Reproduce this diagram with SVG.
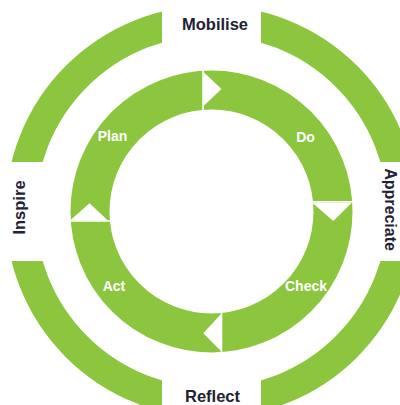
<svg xmlns="http://www.w3.org/2000/svg" width="400" height="405" viewBox="0 0 400 405">
<style>
.ring{fill:none;stroke:#8cc63f}
.notch{fill:#fff;stroke:none}
.cut{stroke:#fff;stroke-width:1.6}
.inner{font-family:"Liberation Sans",Arial,sans-serif;font-weight:bold;font-size:14px;fill:#fff;text-anchor:middle}
.outer{font-family:"Liberation Sans",Arial,sans-serif;font-weight:bold;font-size:16.5px;fill:#222233;text-anchor:middle}
</style>
<defs>
<clipPath id="quad">
<rect x="0" y="0" width="162" height="162"/>
<rect x="261" y="0" width="139" height="162"/>
<rect x="0" y="261" width="162" height="144"/>
<rect x="261" y="261" width="139" height="144"/>
</clipPath>
</defs>
<rect width="400" height="405" fill="#fff"/>
<g id="outer-ring">
<circle class="ring" cx="211.5" cy="211.5" r="191" stroke-width="30" clip-path="url(#quad)"/>
</g>
<g id="cycle-ring">
<circle class="ring" cx="211.5" cy="211.5" r="121.5" stroke-width="39"/>
</g>
<g id="connectors">
<line class="cut" x1="203" y1="68" x2="203" y2="112"/>
<polygon class="notch" points="203.5,72 203.5,106 221.5,89"/>
<line class="cut" x1="310" y1="201.8" x2="355" y2="201.8"/>
<polygon class="notch" points="312,202.5 352,202.5 333.3,221"/>
<line class="cut" x1="221.5" y1="310" x2="221.5" y2="356"/>
<polygon class="notch" points="221,314 221,351 203.3,333.3"/>
<line class="cut" x1="67" y1="221" x2="112" y2="221"/>
<polygon class="notch" points="70,220.5 108,220.5 89.5,203.3"/>
</g>
<g id="node-plan"><text class="inner" x="112.5" y="141">Plan</text></g>
<g id="node-do"><text class="inner" x="305.5" y="141.5">Do</text></g>
<g id="node-check"><text class="inner" x="306" y="290.5">Check</text></g>
<g id="node-act"><text class="inner" x="114" y="290.5">Act</text></g>
<g id="node-mobilise"><text class="outer" x="215" y="30">Mobilise</text></g>
<g id="node-appreciate"><text class="outer" style="font-size:16px" transform="translate(384.5,209.5) rotate(90)">Appreciate</text></g>
<g id="node-reflect"><text class="outer" x="212.5" y="401.5">Reflect</text></g>
<g id="node-inspire"><text class="outer" transform="translate(25,207.5) rotate(-90)">Inspire</text></g>
</svg>
